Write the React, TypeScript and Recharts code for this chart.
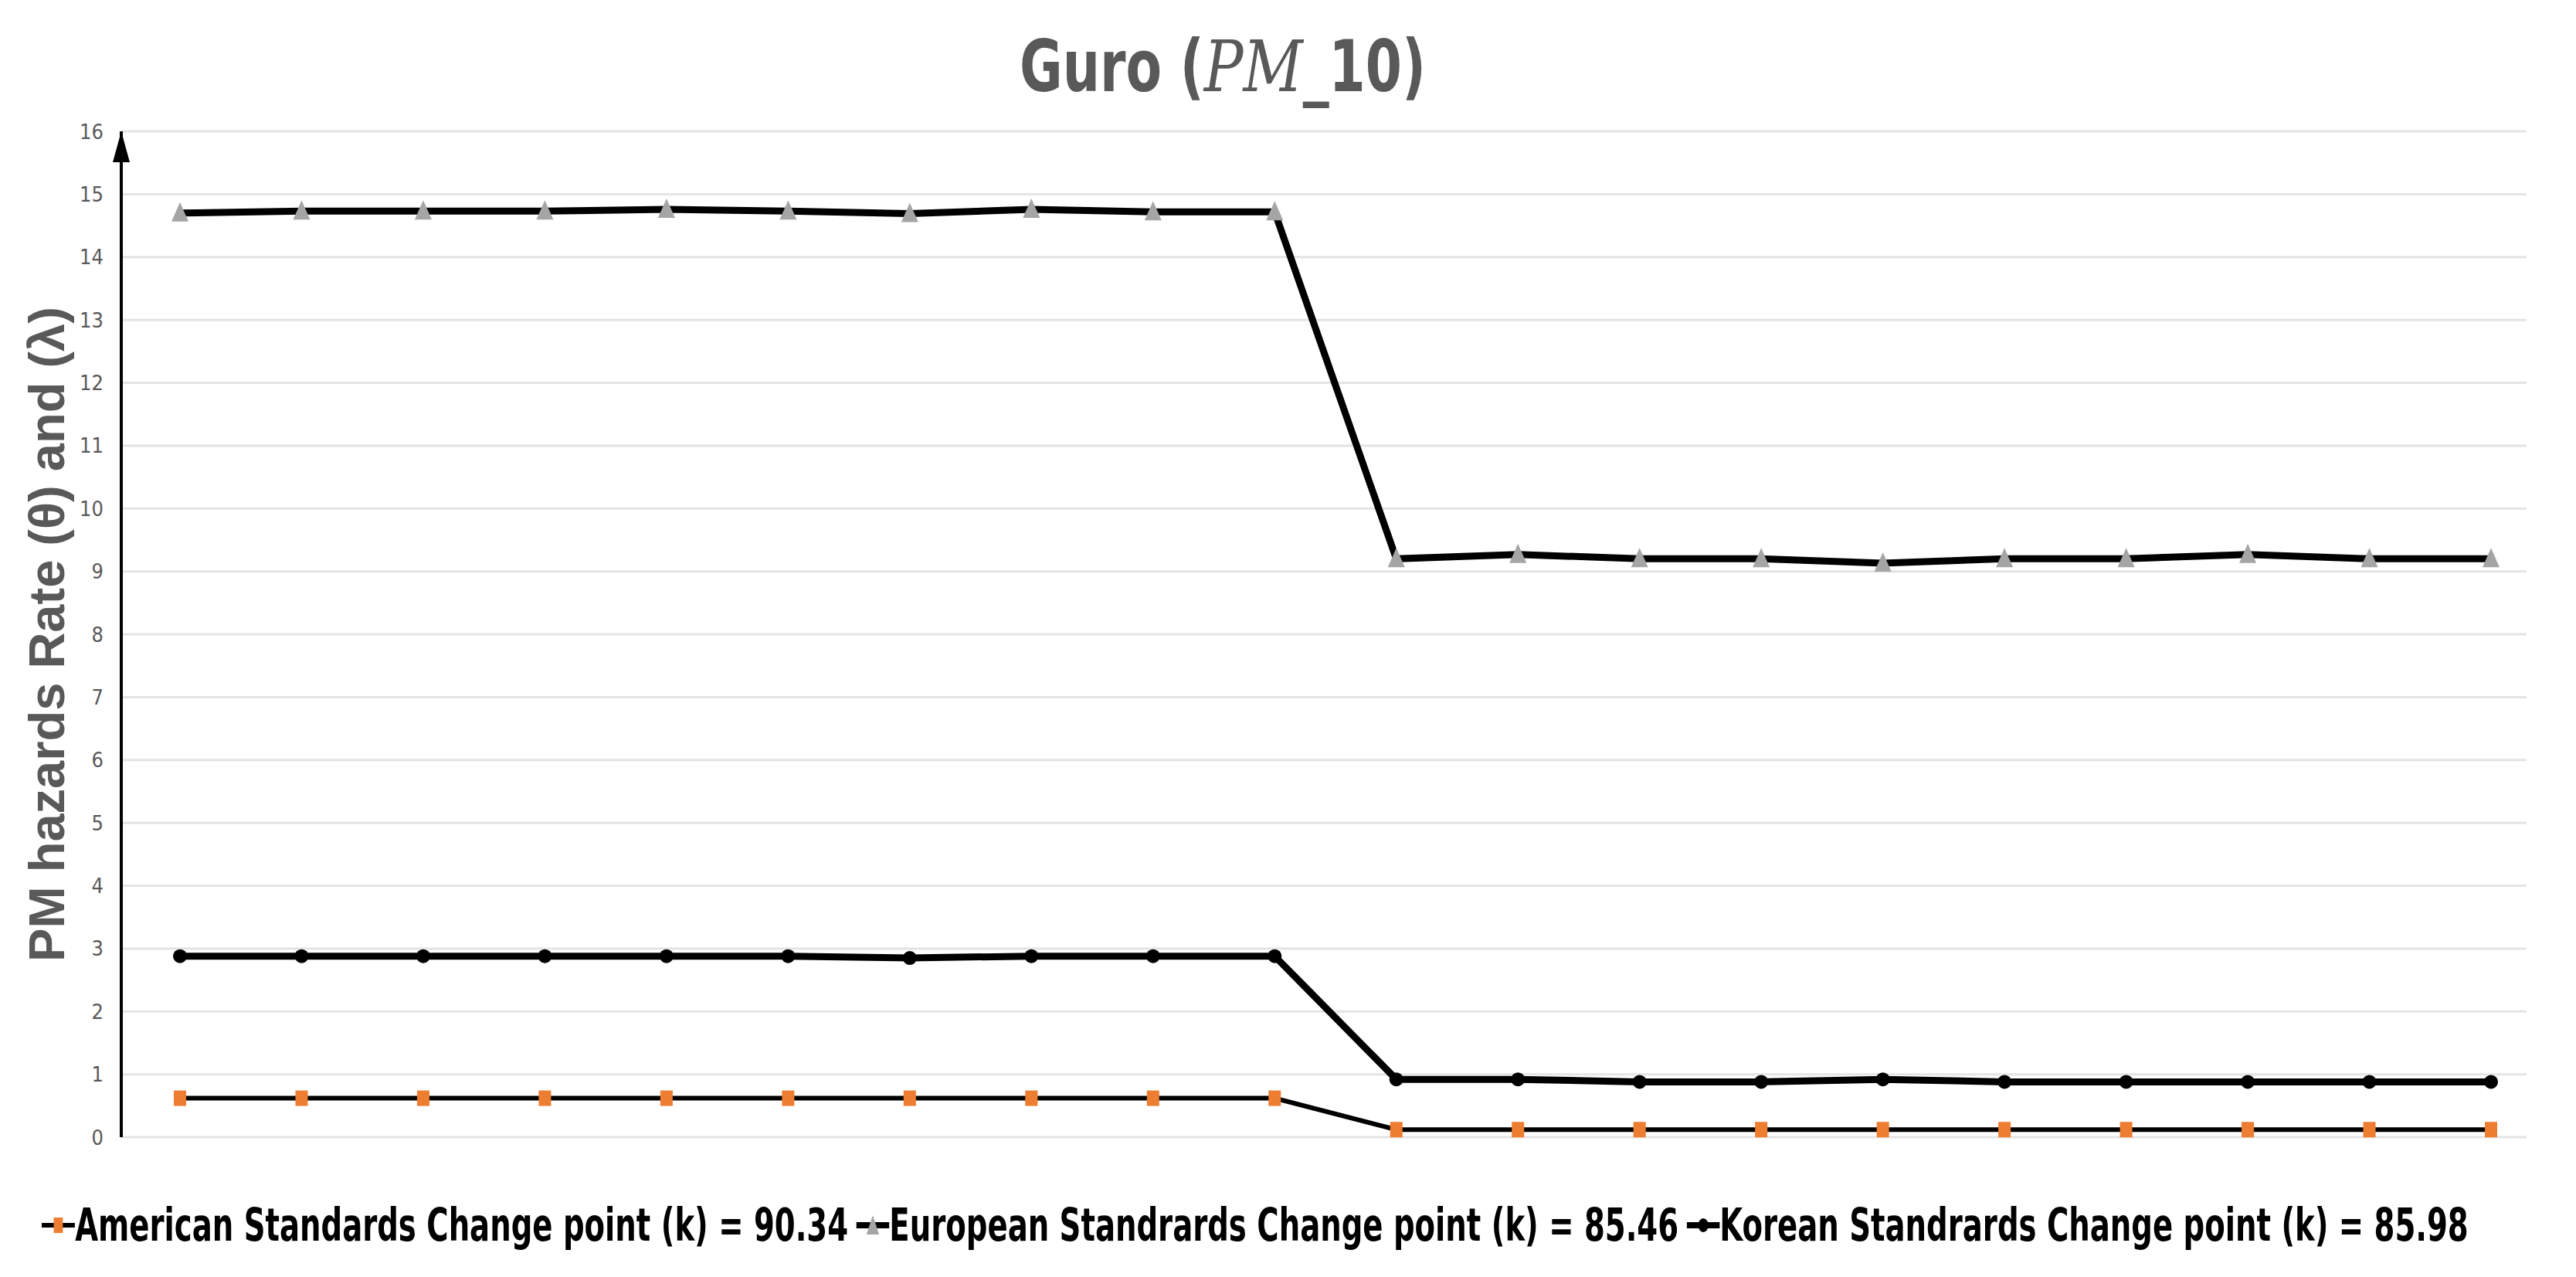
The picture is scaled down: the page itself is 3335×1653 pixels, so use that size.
import { LineChart, Line, XAxis, YAxis, CartesianGrid, Legend } from 'recharts';

// x positions (no labels shown on the chart)
const categories = ['1', '2', '3', '4', '5', '6', '7', '8', '9', '10', '11', '12', '13', '14', '15', '16', '17', '18', '19', '20'];

const american = [0.62, 0.62, 0.62, 0.62, 0.62, 0.62, 0.62, 0.62, 0.62, 0.62, 0.12, 0.12, 0.12, 0.12, 0.12, 0.12, 0.12, 0.12, 0.12, 0.12];
const european = [14.7, 14.73, 14.73, 14.73, 14.76, 14.73, 14.69, 14.76, 14.72, 14.72, 9.2, 9.27, 9.2, 9.2, 9.13, 9.2, 9.2, 9.27, 9.2, 9.2];
const korean = [2.88, 2.88, 2.88, 2.88, 2.88, 2.88, 2.85, 2.88, 2.88, 2.88, 0.92, 0.92, 0.88, 0.88, 0.92, 0.88, 0.88, 0.88, 0.88, 0.88];

const yTicks = [0, 1, 2, 3, 4, 5, 6, 7, 8, 9, 10, 11, 12, 13, 14, 15, 16];

const seriesNames = {
  american: 'American Standards Change point (k) = 90.34',
  european: 'European Standrards Change point (k) = 85.46',
  korean: 'Korean Standrards Change point (k) = 85.98',
};

const data = categories.map((name, i) => ({
  name,
  american: american[i],
  european: european[i],
  korean: korean[i],
}));

const W = 3335;
const H = 1653;
const narrow = "'DejaVu Sans Condensed', 'Liberation Sans Narrow', sans-serif";
const orange = '#ED7D31';
const gray = '#A5A5A5';
const titleX = 1583;

const SquareDot = (props: any) => {
  const { cx, cy, index } = props;
  if (cx == null || cy == null) return null;
  return <rect key={`sq-${index}`} x={cx - 8} y={cy - 10} width={16} height={20} fill={orange} />;
};

const TriangleDot = (props: any) => {
  const { cx, cy, index } = props;
  if (cx == null || cy == null) return null;
  return (
    <polygon
      key={`tri-${index}`}
      points={`${cx},${cy - 14} ${cx - 11},${cy + 11} ${cx + 11},${cy + 11}`}
      fill={gray}
    />
  );
};

function LegendIcon({ kind }: { kind: string }) {
  return (
    <svg width={58} height={30} style={{ marginRight: 0 }}>
      <line x1={0} y1={15} x2={58} y2={15} stroke="#000" strokeWidth={kind === 'american' ? 6 : 8} />
      {kind === 'american' && <rect x={21} y={5} width={16} height={20} fill={orange} />}
      {kind === 'european' && <polygon points="29,2 18,27 40,27" fill={gray} />}
      {kind === 'korean' && <circle cx={29} cy={15} r={9} fill="#000" />}
    </svg>
  );
}

function LegendContent() {
  const keys = ['american', 'european', 'korean'] as const;
  return (
    <div
      style={{
        display: 'flex',
        justifyContent: 'center',
        alignItems: 'center',
        gap: 14,
        transform: 'scaleX(0.74)',
        transformOrigin: 'center',
      }}
    >
      {keys.map((k) => (
        <div key={k} style={{ display: 'flex', alignItems: 'center' }}>
          <LegendIcon kind={k} />
          <span style={{ fontFamily: narrow, fontWeight: 'bold', fontSize: 58, color: '#000', whiteSpace: 'nowrap' }}>
            {seriesNames[k]}
          </span>
        </div>
      ))}
    </div>
  );
}

export default function App() {
  return (
    <div style={{ position: 'absolute', left: 0, top: 0, width: W, height: H, background: '#fff', overflow: 'hidden' }}>
      <LineChart width={W} height={H} data={data} margin={{ top: 170, right: 64, bottom: 181, left: 77 }}>
        <defs>
          <marker
            id="axisArrow"
            viewBox="0 0 40 22"
            refX={40}
            refY={11}
            markerWidth={40}
            markerHeight={22}
            markerUnits="userSpaceOnUse"
            orient="auto-start-reverse"
          >
            <path d="M0,0 L40,11 L0,22 z" fill="#000" />
          </marker>
        </defs>
        <text
          x={titleX}
          y={118}
          textAnchor="middle"
          fill="#595959"
          fontSize={92}
          fontWeight="bold"
          fontFamily={narrow}
          transform={`translate(${titleX},0) scale(0.82,1) translate(${-titleX},0)`}
        >
          Guro (
          <tspan fontFamily="'DejaVu Serif', 'Liberation Serif', serif" fontStyle="italic" fontWeight="normal">
            PM
          </tspan>
          _10)
        </text>
        <CartesianGrid vertical={false} stroke="#e4e4e4" strokeWidth={3} />
        <XAxis dataKey="name" hide padding={{ left: 76, right: 46 }} />
        <YAxis
          domain={[0, 16]}
          ticks={yTicks}
          interval={0}
          width={80}
          tickLine={false}
          tickMargin={17}
          axisLine={{ stroke: '#000', strokeWidth: 4, markerStart: 'url(#axisArrow)' }}
          tick={{ fill: '#595959', fontSize: 27, fontFamily: narrow }}
          label={{
            value: 'PM hazards Rate (θ) and (λ)',
            angle: -90,
            position: 'insideLeft',
            dx: -22,
            style: {
              textAnchor: 'middle',
              fill: '#595959',
              fontSize: 65,
              fontWeight: 'bold',
              fontFamily: "'Liberation Sans', Arial, sans-serif",
            },
          }}
        />
        <Legend
          layout="horizontal"
          verticalAlign="middle"
          align="center"
          content={<LegendContent />}
          wrapperStyle={{ top: 1552, left: 0, width: 3250 }}
        />
        <Line
          dataKey="american"
          name={seriesNames.american}
          stroke="#000"
          strokeWidth={6}
          dot={<SquareDot />}
          activeDot={false}
          isAnimationActive={false}
        />
        <Line
          dataKey="european"
          name={seriesNames.european}
          stroke="#000"
          strokeWidth={9}
          dot={<TriangleDot />}
          activeDot={false}
          isAnimationActive={false}
        />
        <Line
          dataKey="korean"
          name={seriesNames.korean}
          stroke="#000"
          strokeWidth={9}
          dot={{ r: 9, fill: '#000', stroke: '#000', strokeWidth: 0 }}
          activeDot={false}
          isAnimationActive={false}
        />
      </LineChart>
    </div>
  );
}
